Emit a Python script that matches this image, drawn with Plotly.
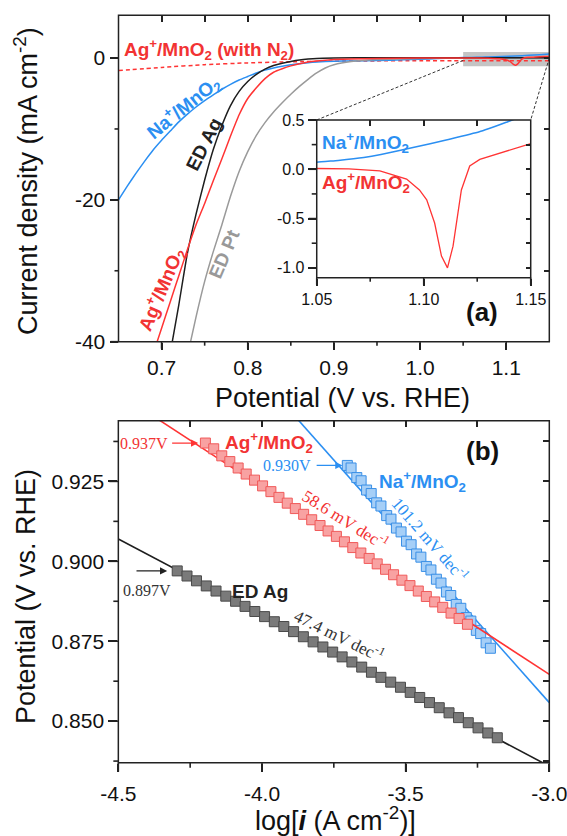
import plotly.graph_objects as go

# ---------------- (a) polarisation curves: potential (V vs RHE) / current (mA cm-2)
n2_pot = [0.65, 0.70, 0.75, 0.80, 0.85, 0.90, 0.95, 1.00, 1.05, 1.10, 1.15]
n2_cur = [-1.75, -1.32, -0.93, -0.68, -0.52, -0.44, -0.40, -0.38, -0.38, -0.38, -0.38]

na_pot = [0.65, 0.66, 0.67, 0.68, 0.69, 0.70, 0.71, 0.72, 0.73, 0.74, 0.75, 0.76,
          0.77, 0.78, 0.79, 0.80, 0.81, 0.82, 0.83, 0.84, 0.85, 0.86, 0.87, 0.88,
          0.90, 0.92, 0.95, 0.98, 1.00, 1.02, 1.04,
          1.05, 1.06, 1.072, 1.08, 1.095, 1.111, 1.126, 1.139, 1.15]
na_cur = [-20.0, -18.1, -16.3, -14.6, -13.0, -11.6, -10.3, -9.0, -7.9, -6.9, -6.0, -5.2,
          -4.4, -3.7, -3.1, -2.6, -2.1, -1.7, -1.4, -1.15, -0.95, -0.8, -0.65, -0.55,
          -0.45, -0.4, -0.35, -0.25, -0.17, -0.08, 0.03,
          0.07, 0.09, 0.12, 0.15, 0.22, 0.30, 0.38, 0.48, 0.57]

ag_pot = [0.69, 0.70, 0.71, 0.72, 0.73, 0.74, 0.75, 0.76, 0.77, 0.78, 0.79, 0.80,
          0.81, 0.82, 0.83, 0.84, 0.85, 0.86, 0.87, 0.88,
          0.90, 0.92, 0.95, 1.00, 1.05, 1.065,
          1.0795, 1.092, 1.098, 1.1014, 1.1051, 1.1083, 1.1111, 1.1137, 1.1176,
          1.1215, 1.1262, 1.1387, 1.1495, 1.15]
ag_cur = [-41.8, -38.1, -34.4, -30.7, -27.0, -23.5, -20.5, -17.3, -14.2, -11.0, -8.0, -5.7,
          -4.2, -2.9, -2.0, -1.5, -1.1, -0.8, -0.55, -0.4,
          -0.22, -0.12, -0.05, 0.0, 0.008, 0.003,
          -0.017, -0.10, -0.21, -0.31, -0.545, -0.88, -1.0, -0.78, -0.21,
          0.034, 0.10, 0.18, 0.257, 0.26]

edag_pot = [0.712, 0.72, 0.73, 0.74, 0.75, 0.76, 0.77, 0.78, 0.79, 0.80, 0.81, 0.82,
            0.83, 0.84, 0.85, 0.86, 0.87, 0.88, 0.90, 0.95, 1.00, 1.05, 1.10, 1.15]
edag_cur = [-40.3, -34.8, -27.5, -22.0, -17.2, -12.9, -9.5, -6.7, -4.7, -3.3, -2.3, -1.55,
            -1.05, -0.72, -0.48, -0.28, -0.15, -0.06, 0.0, 0.05, 0.05, 0.05, 0.05, 0.05]

edpt_pot = [0.73, 0.74, 0.75, 0.76, 0.77, 0.78, 0.79, 0.80, 0.81, 0.82, 0.83, 0.84,
            0.85, 0.86, 0.87, 0.88, 0.89, 0.90, 0.92, 0.95, 1.00, 1.05, 1.10, 1.15]
edpt_cur = [-42.0, -36.5, -31.5, -27.3, -23.5, -19.5, -16.0, -13.2, -10.9, -9.1, -7.6, -6.3,
            -5.1, -4.0, -3.0, -2.1, -1.4, -0.95, -0.5, -0.22, -0.05, 0.0, 0.0, 0.0]

# ---------------- (b) Tafel plots: log i / potential
ag_logi = [-4.197, -4.168, -4.140, -4.112, -4.083, -4.055, -4.026, -3.998, -3.969, -3.941,
           -3.912, -3.884, -3.855, -3.827, -3.798, -3.770, -3.741, -3.713, -3.684, -3.656,
           -3.627, -3.599, -3.570, -3.542, -3.513, -3.485, -3.456, -3.428, -3.399, -3.371,
           -3.342, -3.314, -3.285]
ag_E = [0.9370, 0.9352, 0.9330, 0.9312, 0.9292, 0.9273, 0.9254, 0.9236, 0.9218, 0.9200,
        0.9182, 0.9165, 0.9147, 0.9130, 0.9112, 0.9095, 0.9078, 0.9061, 0.9043, 0.9026,
        0.9009, 0.8992, 0.8975, 0.8958, 0.8941, 0.8924, 0.8907, 0.8890, 0.8873, 0.8856,
        0.8838, 0.8821, 0.8803]

na_logi = [-3.703, -3.690, -3.670, -3.655, -3.636, -3.620, -3.601, -3.586, -3.566, -3.551,
           -3.532, -3.516, -3.497, -3.481, -3.462, -3.447, -3.428, -3.412, -3.393, -3.377,
           -3.358, -3.343, -3.324, -3.308, -3.289, -3.273, -3.254, -3.239, -3.220, -3.205]
na_E = [0.9300, 0.9292, 0.9262, 0.9252, 0.9223, 0.9212, 0.9183, 0.9173, 0.9143, 0.9132,
        0.9104, 0.9092, 0.9063, 0.9052, 0.9023, 0.9013, 0.8984, 0.8973, 0.8944, 0.8932,
        0.8904, 0.8893, 0.8865, 0.8853, 0.8824, 0.8813, 0.8784, 0.8774, 0.8745, 0.8728]

edag_logi = [-4.295, -4.261, -4.228, -4.194, -4.160, -4.126, -4.092, -4.059, -4.025, -3.991,
             -3.957, -3.924, -3.890, -3.856, -3.822, -3.788, -3.754, -3.721, -3.687, -3.653,
             -3.619, -3.586, -3.552, -3.518, -3.484, -3.451, -3.417, -3.383, -3.349, -3.316,
             -3.282, -3.248, -3.214, -3.181]
edag_E = [0.8970, 0.8954, 0.8939, 0.8923, 0.8907, 0.8891, 0.8875, 0.8859, 0.8843, 0.8827,
          0.8811, 0.8796, 0.8780, 0.8764, 0.8748, 0.8732, 0.8716, 0.8701, 0.8685, 0.8669,
          0.8653, 0.8637, 0.8622, 0.8606, 0.8590, 0.8574, 0.8558, 0.8542, 0.8526, 0.8511,
          0.8495, 0.8479, 0.8463, 0.8448]

# Tafel slopes (mV dec-1) and onset potentials (V)
tafel_slopes = {"ag": 58.6, "na": 101.2, "edag": 47.4}
onsets = {"ag": 0.937, "na": 0.930, "edag": 0.897}

# ---------------- axis ranges and tick labels
xa_range, ya_range = [0.65, 1.15], [-40, 6.03]
xa_ticks, xa_text = [0.7, 0.8, 0.9, 1.0, 1.1], ["0.7", "0.8", "0.9", "1.0", "1.1"]
xa_minor = [0.75, 0.85, 0.95, 1.05]
ya_ticks, ya_text = [0, -20, -40], ["0", "-20", "-40"]
ya_minor = [-10, -30]

xi_range, yi_range = [1.05, 1.15], [-1.1, 0.5]
xi_ticks, xi_text = [1.05, 1.10, 1.15], ["1.05", "1.10", "1.15"]
xi_minor = [1.075, 1.125]
yi_ticks, yi_text = [0.5, 0.0, -0.5, -1.0], ["0.5", "0.0", "-0.5", "-1.0"]
yi_minor = [0.25, -0.25, -0.75]

xb_range, yb_range = [-4.5, -3.0], [0.837, 0.944]
xb_ticks, xb_text = [-4.5, -4.0, -3.5, -3.0], ["-4.5", "-4.0", "-3.5", "-3.0"]
xb_minor = [-4.25, -3.75, -3.25]
yb_ticks, yb_text = [0.850, 0.875, 0.900, 0.925], ["0.850", "0.875", "0.900", "0.925"]
yb_minor = [0.8375, 0.8625, 0.8875, 0.9125, 0.9375]

# ---------------- layout geometry (paper fractions)
W, H = 567, 836
xa_dom, ya_dom = [0.2090, 0.9688], [0.5913, 0.9817]
xi_dom, yi_dom = [0.5586, 0.9360], [0.6678, 0.8565]
xb_dom, yb_dom = [0.2087, 0.9688], [0.0877, 0.4968]

SANS = "Liberation Sans, Arial, sans-serif"
SERIF = "Liberation Serif, Times New Roman, serif"
AX = "#222222"
RED, BLUE, BLACK, GRAY = "#ff3434", "#2b8ff2", "#1e1e1e", "#9a9a9a"
RED_T, BLUE_T = "#f23333", "#2b8ff2"


def to_paper(v, rng, dom):
    return dom[0] + (v - rng[0]) / (rng[1] - rng[0]) * (dom[1] - dom[0])


fig = go.Figure()

# ---- (a) main curves
main_curves = [
    (n2_pot, n2_cur, RED, "4px,3px"),
    (na_pot, na_cur, BLUE, "solid"),
    (edpt_pot, edpt_cur, GRAY, "solid"),
    (edag_pot, edag_cur, BLACK, "solid"),
    (ag_pot, ag_cur, RED, "solid"),
]
for xs, ys, col, dash in main_curves:
    fig.add_trace(go.Scatter(x=xs, y=ys, mode="lines", xaxis="x", yaxis="y",
                             line=dict(color=col, width=1.5, dash=dash, shape="spline", smoothing=0.5),
                             showlegend=False, hoverinfo="skip"))

# ---- inset curves
fig.add_trace(go.Scatter(x=na_pot, y=na_cur, mode="lines", xaxis="x3", yaxis="y3",
                         line=dict(color=BLUE, width=1.5, shape="spline", smoothing=0.5),
                         showlegend=False, hoverinfo="skip"))
fig.add_trace(go.Scatter(x=ag_pot, y=ag_cur, mode="lines", xaxis="x3", yaxis="y3",
                         line=dict(color=RED, width=1.3),
                         showlegend=False, hoverinfo="skip"))


# ---- (b) Tafel fits and data
def tafel_line(xs, ys, slope_mv):
    x0 = sum(xs) / len(xs)
    y0 = sum(ys) / len(ys)
    b = slope_mv / 1000.0
    lx = list(xb_range)
    ly = [y0 - b * (v - x0) for v in lx]
    return lx, ly


tafel_sets = [
    (edag_logi, edag_E, tafel_slopes["edag"], BLACK, "#7a7a7a", "#4a4a4a"),
    (na_logi, na_E, tafel_slopes["na"], BLUE, "#a6cff7", "#3a8fe6"),
    (ag_logi, ag_E, tafel_slopes["ag"], RED, "#f8a2a2", "#f05a5a"),
]
for xs, ys, slope, lcol, fill, edge in tafel_sets:
    lx, ly = tafel_line(xs, ys, slope)
    fig.add_trace(go.Scatter(x=lx, y=ly, mode="lines", xaxis="x5", yaxis="y5",
                             line=dict(color=lcol, width=1.6), showlegend=False, hoverinfo="skip"))
    fig.add_trace(go.Scatter(x=xs, y=ys, mode="markers", xaxis="x5", yaxis="y5",
                             marker=dict(symbol="square", size=10, color=fill,
                                         line=dict(color=edge, width=1)),
                             showlegend=False, hoverinfo="skip"))

# empty traces so the mirrored (top/right) axes are drawn
for xa, ya in [("x2", "y2"), ("x4", "y4"), ("x6", "y6")]:
    fig.add_trace(go.Scatter(x=[], y=[], xaxis=xa, yaxis=ya, showlegend=False, hoverinfo="skip"))


def base_axis(**kw):
    d = dict(showgrid=False, zeroline=False, showline=False, linecolor=AX, linewidth=1.5,
             tickcolor=AX, tickwidth=1.6, tickfont=dict(family=SANS, size=21, color="#111"),
             fixedrange=True, automargin=False, tickmode="array")
    d.update(kw)
    return d


def tick_axis(over, anchor, side, rng, vals, ln):
    return base_axis(overlaying=over, anchor=anchor, side=side, range=rng, tickvals=vals,
                     ticks="inside", ticklen=ln, showticklabels=False)


small = dict(family=SANS, size=16, color="#111")
layout_axes = dict(
    # panel (a)
    xaxis=base_axis(domain=xa_dom, anchor="y", range=xa_range, tickvals=xa_ticks,
                    ticktext=xa_text, ticks="outside", ticklen=7),
    yaxis=base_axis(domain=ya_dom, anchor="x", range=ya_range, tickvals=ya_ticks,
                    ticktext=ya_text, ticks="outside", ticklen=8),
    xaxis2=tick_axis("x", "y", "top", xa_range, xa_ticks + xa_minor, 7),
    yaxis2=tick_axis("y", "x", "right", ya_range, ya_ticks + ya_minor, 5),
    # inset
    xaxis3=base_axis(domain=xi_dom, anchor="y3", range=xi_range, tickvals=xi_ticks,
                     ticktext=xi_text, ticks="outside", ticklen=7, tickfont=small,
                     ticklabeloverflow="allow"),
    yaxis3=base_axis(domain=yi_dom, anchor="x3", range=yi_range, tickvals=yi_ticks,
                     ticktext=yi_text, ticks="outside", ticklen=8, tickfont=small),
    xaxis4=tick_axis("x3", "y3", "top", xi_range, xi_minor + [1.10], 6),
    yaxis4=tick_axis("y3", "x3", "right", yi_range, yi_ticks + yi_minor, 5),
    # panel (b)
    xaxis5=base_axis(domain=xb_dom, anchor="y5", range=xb_range, tickvals=xb_ticks,
                     ticktext=xb_text, ticks="outside", ticklen=8, ticklabelstandoff=4,
                     ticklabeloverflow="allow"),
    yaxis5=base_axis(domain=yb_dom, anchor="x5", range=yb_range, tickvals=yb_ticks,
                     ticktext=yb_text, ticks="outside", ticklen=9),
    xaxis6=tick_axis("x5", "y5", "top", xb_range, xb_ticks[1:-1] + xb_minor, 6),
    yaxis6=tick_axis("y5", "x5", "right", yb_range, yb_ticks + yb_minor, 6),
)

# ---- zoom box and connector lines
shapes = [
    dict(type="rect", xref="x", yref="y", x0=xi_range[0], x1=xi_range[1], y0=-1.17, y1=0.85,
         fillcolor="#c4c4c4", line=dict(width=0), layer="below"),
    dict(type="line", xref="paper", yref="paper",
         x0=to_paper(xi_range[0], xa_range, xa_dom), y0=to_paper(-0.34, ya_range, ya_dom),
         x1=xi_dom[0], y1=yi_dom[1], line=dict(color="#333", width=1, dash="3px,2px")),
    dict(type="line", xref="paper", yref="paper",
         x0=to_paper(xi_range[1], xa_range, xa_dom), y0=to_paper(0.0, ya_range, ya_dom),
         x1=xi_dom[1], y1=yi_dom[1], line=dict(color="#333", width=1, dash="3px,2px")),
]
# frame of each panel
for xd, yd in [(xa_dom, ya_dom), (xi_dom, yi_dom), (xb_dom, yb_dom)]:
    shapes.append(dict(type="rect", xref="paper", yref="paper", x0=xd[0], x1=xd[1],
                       y0=yd[0], y1=yd[1], line=dict(color=AX, width=1.5), layer="above"))


# outward tick marks on the bottom and left axes, placed in paper space
def x_ticks_out(rng, xd, yd, vals, ln):
    return [dict(type="line", xref="paper", yref="paper",
                 x0=to_paper(v, rng, xd), x1=to_paper(v, rng, xd),
                 y0=yd[0], y1=yd[0] - ln / H,
                 line=dict(color=AX, width=1.6), layer="above") for v in vals]


def y_ticks_out(rng, xd, yd, vals, ln):
    return [dict(type="line", xref="paper", yref="paper",
                 y0=to_paper(v, rng, yd), y1=to_paper(v, rng, yd),
                 x0=xd[0], x1=xd[0] - ln / W,
                 line=dict(color=AX, width=1.6), layer="above") for v in vals]


shapes += x_ticks_out(xa_range, xa_dom, ya_dom, xa_ticks, 7)
shapes += x_ticks_out(xa_range, xa_dom, ya_dom, xa_minor, 4)
shapes += y_ticks_out(ya_range, xa_dom, ya_dom, ya_ticks, 8)
shapes += y_ticks_out(ya_range, xa_dom, ya_dom, ya_minor, 4)
shapes += x_ticks_out(xi_range, xi_dom, yi_dom, xi_ticks, 7)
shapes += x_ticks_out(xi_range, xi_dom, yi_dom, xi_minor, 4)
shapes += y_ticks_out(yi_range, xi_dom, yi_dom, yi_ticks, 8)
shapes += y_ticks_out(yi_range, xi_dom, yi_dom, yi_minor, 5)
shapes += x_ticks_out(xb_range, xb_dom, yb_dom, xb_ticks, 9)
shapes += x_ticks_out(xb_range, xb_dom, yb_dom, xb_minor, 5)
shapes += y_ticks_out(yb_range, xb_dom, yb_dom, yb_ticks, 9)
shapes += y_ticks_out(yb_range, xb_dom, yb_dom, yb_minor, 5)

AG = "Ag<sup>+</sup>/MnO<sub>2</sub>"
NA = "Na<sup>+</sup>/MnO<sub>2</sub>"


def lab(text, x, y, ref, color, size=19, angle=0, xanchor="center", family=SANS, bold=True):
    return dict(text=("<b>%s</b>" % text) if bold else text, x=x, y=y,
                xref=ref[0], yref=ref[1], showarrow=False, textangle=angle,
                xanchor=xanchor, yanchor="middle",
                font=dict(family=family, size=size, color=color))


def arrow(x_head, x_tail, y, color):
    return dict(text="", x=x_head, y=y, ax=x_tail, ay=y, xref="x5", yref="y5",
                axref="x5", ayref="y5", showarrow=True, arrowhead=2, arrowsize=1.2,
                arrowwidth=1.2, arrowcolor=color, standoff=0, startstandoff=0)


A = ("x", "y")
I = ("x3", "y3")
B = ("x5", "y5")
annotations = [
    lab(AG + " (with N<sub>2</sub>)", 0.654, 1.24, A, RED_T, xanchor="left"),
    lab(NA, 0.7255, -7.0, A, BLUE_T, angle=-39),
    lab("ED Ag", 0.749, -12.2, A, "#222", angle=-63),
    lab(AG, 0.700, -32.7, A, RED_T, angle=-67),
    lab("ED Pt", 0.7725, -27.7, A, "#999", angle=-67),
    lab("(a)", 1.072, -35.8, A, "#111", size=26),
    lab(NA, 1.0514, 0.267, I, BLUE_T, xanchor="left"),
    lab(AG, 1.0514, -0.138, I, RED_T, xanchor="left"),
    # (b)
    lab("%.3fV" % onsets["ag"], -4.320, onsets["ag"], B, RED_T, size=16, xanchor="right",
        family=SERIF, bold=False),
    arrow(-4.222, -4.318, onsets["ag"], RED),
    lab("%.3fV" % onsets["na"], -3.8225, onsets["na"], B, BLUE_T, size=16, xanchor="right",
        family=SERIF, bold=False),
    arrow(-3.720, -3.815, onsets["na"], BLUE),
    lab("%.3fV" % onsets["edag"], -4.310, 0.891, B, "#333", size=16, xanchor="right",
        family=SERIF, bold=False),
    arrow(-4.330, -4.442, onsets["edag"], "#222"),
    lab(AG, -4.136, 0.9372, B, RED_T, xanchor="left"),
    lab(NA, -3.600, 0.925, B, BLUE_T, xanchor="left"),
    lab("(b)", -3.234, 0.9344, B, "#111", size=26),
    lab("ED Ag", -4.006, 0.8907, B, "#222"),
    lab("%.1f mV dec<sup>-1</sup>" % tafel_slopes["ag"], -3.709, 0.9131, B, RED_T, size=17,
        angle=32, family=SERIF, bold=False),
    lab("%.1f mV dec<sup>-1</sup>" % tafel_slopes["na"], -3.413, 0.9070, B, BLUE_T, size=17,
        angle=49, family=SERIF, bold=False),
    lab("%.1f mV dec<sup>-1</sup>" % tafel_slopes["edag"], -3.730, 0.8770, B, "#333", size=17,
        angle=26, family=SERIF, bold=False),
]

# axis titles
TF = dict(family=SANS, size=27, color="#111")
annotations += [
    dict(text="Current density (mA cm<sup>-2</sup>)", x=26 / W, y=1 - 181 / H, xref="paper",
         yref="paper", showarrow=False, textangle=-90, font=TF, xanchor="center", yanchor="middle"),
    dict(text="Potential (V vs. RHE)", x=342 / W, y=1 - 398 / H, xref="paper", yref="paper",
         showarrow=False, font=TF, xanchor="center", yanchor="middle"),
    dict(text="Potential (V vs. RHE)", x=26 / W, y=1 - 597 / H, xref="paper", yref="paper",
         showarrow=False, textangle=-90, font=TF, xanchor="center", yanchor="middle"),
    dict(text="log[<b><i>i</i></b> (A cm<sup>-2</sup>)]", x=335 / W, y=1 - 819 / H,
         xref="paper", yref="paper", showarrow=False, font=TF, xanchor="center",
         yanchor="middle"),
]

fig.update_layout(
    width=W, height=H, autosize=False,
    margin=dict(l=0, r=0, t=0, b=0, pad=0),
    paper_bgcolor="white", plot_bgcolor="white",
    showlegend=False,
    shapes=shapes, annotations=annotations,
    **layout_axes,
)

fig.write_html("out.html", config={"displayModeBar": False, "responsive": False},
               post_script="document.body.style.margin='0';document.body.style.overflow='hidden';")
